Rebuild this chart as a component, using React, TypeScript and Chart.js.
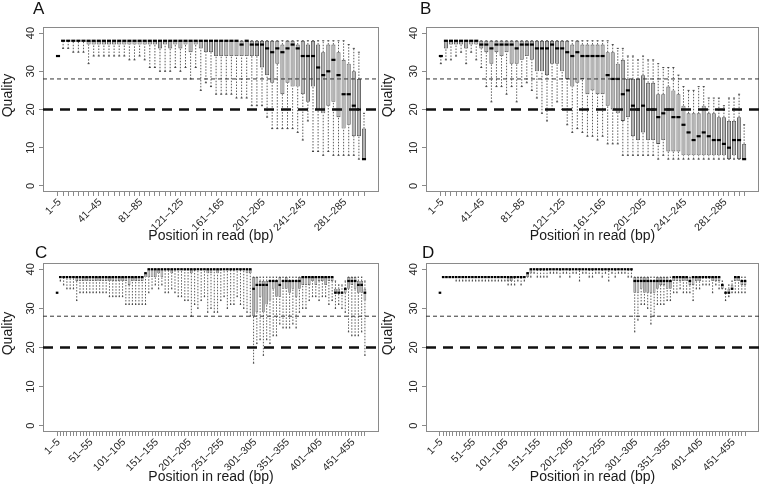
import React, { useEffect, useRef } from "react";
import { Chart, registerables } from "chart.js";
Chart.register(...registerables);

const FONT = "'Liberation Sans', Arial, Helvetica, sans-serif";

// x tick labels (shown every LABEL_STEP boxes)
const LABELS_AB = ["1–5", "41–45", "81–85", "121–125", "161–165", "201–205", "241–245", "281–285"];
const LABEL_STEP_AB = 8;
const LABELS_CD = ["1–5", "51–55", "101–105", "151–155", "201–205", "251–255", "301–305", "351–355", "401–405", "451–455"];
const LABEL_STEP_CD = 10;
const Y_TICKS = [0, 10, 20, 30, 40];
const THRESHOLD_THIN = 28;
const THRESHOLD_THICK = 20;
const X_TITLE = "Position in read (bp)";
const Y_TITLE = "Quality";

// ---------- Panel A (61 boxes) ----------
const A_LOW = [
  34, 36, 36, 35, 35, 35, 32, 34, 34, 34,
  34, 34, 34, 34, 33, 33, 34, 33, 31, 31,
  30, 30, 30, 31, 30, 31, 28, 31, 25, 27,
  26, 24, 24, 24, 24, 23, 23, 23, 21, 21,
  21, 18, 15, 15, 15, 15, 15, 14, 12, 17,
  9, 9, 8, 9, 8, 8, 8, 8, 8, 7,
  7];
const A_Q1 = [
  34, 38, 38, 38, 38, 38, 37, 37, 37, 37,
  37, 37, 37, 37, 37, 37, 37, 37, 37, 37,
  36, 37, 36, 37, 36, 37, 35, 37, 36, 35,
  35, 34, 34, 34, 34, 34, 34, 34, 34, 34,
  31, 29, 27, 32, 24, 27, 26, 26, 24, 22,
  26, 20, 19, 21, 22, 18, 15, 16, 13, 13,
  7];
const A_MED = [
  34, 38, 38, 38, 38, 38, 38, 38, 38, 38,
  38, 38, 38, 38, 38, 38, 38, 38, 38, 38,
  38, 38, 38, 38, 38, 38, 38, 38, 38, 38,
  38, 38, 38, 38, 38, 38, 37, 38, 37, 37,
  37, 36, 35, 36, 35, 36, 37, 36, 34, 34,
  34, 31, 29, 30, 33, 29, 24, 24, 21, 20,
  7];
const A_Q3 = [
  34, 38, 38, 38, 38, 38, 38, 38, 38, 38,
  38, 38, 38, 38, 38, 38, 38, 38, 38, 38,
  38, 38, 38, 38, 38, 38, 38, 38, 38, 38,
  38, 38, 38, 38, 38, 38, 38, 38, 38, 38,
  38, 38, 38, 38, 37, 38, 38, 37, 38, 37,
  38, 37, 35, 37, 37, 35, 33, 32, 30, 28,
  15];
const A_HIGH = [
  34, 38, 38, 38, 38, 38, 38, 38, 38, 38,
  38, 38, 38, 38, 38, 38, 38, 38, 38, 38,
  38, 38, 38, 38, 38, 38, 38, 38, 38, 38,
  38, 38, 38, 38, 38, 38, 38, 38, 38, 38,
  38, 38, 38, 38, 38, 38, 38, 38, 38, 38,
  38, 38, 38, 38, 38, 38, 38, 37, 36, 35,
  19];

// ---------- Panel B (61 boxes) ----------
const B_LOW = [
  32, 33, 33, 34, 35, 32, 35, 33, 31, 26,
  22, 26, 26, 24, 26, 22, 26, 27, 25, 23,
  19, 17, 20, 22, 20, 16, 14, 15, 14, 13,
  13, 12, 13, 11, 11, 11, 8, 8, 8, 8,
  8, 8, 8, 7, 8, 7, 7, 7, 7, 7,
  7, 7, 7, 7, 7, 7, 7, 7, 7, 7,
  7];
const B_Q1 = [
  34, 36, 37, 37, 37, 36, 37, 37, 36, 35,
  32, 35, 34, 35, 32, 32, 33, 34, 33, 30,
  30, 29, 32, 32, 30, 28, 26, 27, 28, 24,
  25, 24, 24, 21, 20, 19, 17, 18, 13, 12,
  14, 12, 12, 11, 12, 9, 9, 9, 8, 8,
  8, 8, 8, 8, 8, 8, 8, 7, 8, 7,
  7];
const B_MED = [
  34, 38, 38, 38, 38, 38, 38, 38, 37, 37,
  36, 37, 37, 37, 37, 36, 37, 37, 37, 36,
  36, 36, 37, 36, 36, 35, 34, 35, 34, 34,
  34, 34, 34, 29, 28, 28, 24, 25, 21, 20,
  21, 20, 20, 18, 19, 20, 18, 18, 16, 14,
  12, 13, 14, 13, 12, 12, 11, 10, 12, 12,
  7];
const B_Q3 = [
  34, 38, 38, 38, 38, 38, 38, 38, 38, 38,
  38, 38, 38, 38, 38, 38, 38, 38, 38, 38,
  38, 38, 38, 38, 38, 38, 37, 38, 37, 37,
  37, 37, 37, 35, 35, 32, 33, 28, 28, 28,
  29, 27, 27, 24, 24, 26, 25, 24, 21, 19,
  19, 19, 21, 19, 19, 18, 18, 17, 17, 18,
  11];
const B_HIGH = [
  34, 38, 38, 38, 38, 38, 38, 38, 38, 38,
  38, 38, 38, 38, 38, 38, 38, 38, 38, 38,
  38, 38, 38, 38, 38, 38, 38, 38, 38, 38,
  38, 38, 38, 38, 37, 36, 36, 34, 34, 33,
  34, 33, 33, 32, 31, 31, 31, 29, 26, 25,
  25, 26, 26, 23, 23, 23, 21, 23, 23, 24,
  16];

// ---------- Panel C (95 boxes) ----------
const C_LOW = [
  34, 37, 36, 35, 35, 35, 32, 34, 34, 34,
  34, 34, 34, 34, 34, 34, 33, 33, 33, 33,
  33, 31, 31, 31, 31, 31, 31, 31, 34, 35,
  36, 35, 36, 34, 34, 35, 34, 33, 33, 32,
  32, 28, 31, 30, 32, 33, 29, 30, 29, 29,
  32, 33, 30, 31, 31, 33, 31, 30, 29, 28,
  16, 21, 22, 18, 22, 21, 23, 23, 26, 25,
  25, 25, 26, 25, 29, 30, 30, 32, 33, 33,
  32, 33, 33, 31, 32, 30, 31, 30, 29, 24,
  23, 23, 23, 24, 18];
const C_Q1 = [
  34, 38, 38, 38, 38, 38, 37, 37, 37, 37,
  37, 37, 37, 37, 37, 37, 37, 37, 37, 37,
  37, 37, 36, 37, 37, 37, 37, 38, 38, 38,
  38, 39, 38, 40, 40, 39, 40, 40, 40, 40,
  40, 39, 40, 40, 40, 40, 39, 39, 40, 39,
  40, 40, 40, 40, 40, 40, 40, 40, 39, 39,
  28, 29, 33, 29, 31, 32, 35, 33, 33, 35,
  35, 34, 35, 33, 35, 36, 36, 36, 37, 36,
  37, 37, 36, 37, 37, 34, 34, 34, 34, 35,
  36, 35, 34, 34, 32];
const C_MED = [
  34, 38, 38, 38, 38, 38, 38, 38, 38, 38,
  38, 38, 38, 38, 38, 38, 38, 38, 38, 38,
  38, 38, 38, 38, 38, 38, 38, 39, 40, 40,
  40, 40, 40, 40, 40, 40, 40, 40, 40, 40,
  40, 40, 40, 40, 40, 40, 40, 40, 40, 40,
  40, 40, 40, 40, 40, 40, 40, 40, 40, 40,
  35, 36, 36, 36, 36, 37, 37, 37, 36, 37,
  37, 37, 37, 37, 37, 38, 38, 38, 38, 38,
  38, 38, 38, 38, 38, 34, 34, 34, 35, 37,
  37, 37, 36, 36, 34];
const C_Q3 = [
  34, 38, 38, 38, 38, 38, 38, 38, 38, 38,
  38, 38, 38, 38, 38, 38, 38, 38, 38, 38,
  38, 38, 38, 38, 38, 38, 38, 39, 40, 40,
  40, 40, 40, 40, 40, 40, 40, 40, 40, 40,
  40, 40, 40, 40, 40, 40, 40, 40, 40, 40,
  40, 40, 40, 40, 40, 40, 40, 40, 40, 40,
  38, 38, 37, 37, 37, 37, 37, 37, 38, 37,
  38, 37, 37, 37, 38, 38, 38, 38, 38, 38,
  38, 38, 38, 38, 38, 35, 35, 34, 35, 38,
  38, 38, 37, 37, 35];
const C_HIGH = [
  34, 38, 38, 38, 38, 38, 38, 38, 38, 38,
  38, 38, 38, 38, 38, 38, 38, 38, 38, 38,
  38, 38, 38, 38, 38, 38, 38, 39, 40, 40,
  40, 40, 40, 40, 40, 40, 40, 40, 40, 40,
  40, 40, 40, 40, 40, 40, 40, 40, 40, 40,
  40, 40, 40, 40, 40, 40, 40, 40, 40, 40,
  38, 38, 38, 38, 38, 38, 38, 38, 38, 38,
  38, 38, 38, 38, 38, 38, 38, 38, 38, 38,
  38, 38, 38, 38, 38, 37, 36, 36, 37, 38,
  38, 38, 38, 38, 37];

// ---------- Panel D (95 boxes) ----------
const D_LOW = [
  34, 38, 38, 38, 38, 37, 37, 37, 37, 37,
  37, 37, 37, 37, 37, 37, 37, 37, 37, 37,
  37, 36, 36, 36, 37, 36, 37, 38, 38, 39,
  38, 38, 38, 38, 39, 39, 39, 38, 39, 39,
  38, 39, 39, 37, 39, 39, 38, 38, 39, 39,
  38, 39, 37, 39, 38, 39, 39, 39, 38, 38,
  24, 27, 31, 31, 30, 26, 28, 31, 31, 31,
  32, 32, 34, 34, 35, 34, 34, 34, 32, 35,
  35, 36, 36, 36, 34, 36, 35, 35, 32, 33,
  34, 34, 34, 34, 34];
const D_Q1 = [
  34, 38, 38, 38, 38, 38, 38, 38, 38, 38,
  38, 38, 38, 38, 38, 38, 38, 38, 38, 38,
  38, 37, 37, 38, 38, 38, 38, 38, 39, 40,
  40, 40, 40, 40, 40, 40, 40, 40, 40, 40,
  40, 40, 40, 40, 40, 40, 40, 40, 40, 40,
  40, 40, 40, 40, 40, 40, 40, 40, 40, 40,
  34, 34, 35, 34, 34, 34, 34, 35, 36, 36,
  35, 35, 37, 37, 37, 37, 37, 36, 36, 37,
  37, 38, 38, 38, 37, 37, 37, 35, 34, 34,
  35, 37, 37, 36, 36];
const D_MED = [
  34, 38, 38, 38, 38, 38, 38, 38, 38, 38,
  38, 38, 38, 38, 38, 38, 38, 38, 38, 38,
  38, 38, 38, 38, 38, 38, 38, 39, 40, 40,
  40, 40, 40, 40, 40, 40, 40, 40, 40, 40,
  40, 40, 40, 40, 40, 40, 40, 40, 40, 40,
  40, 40, 40, 40, 40, 40, 40, 40, 40, 40,
  37, 37, 37, 37, 37, 37, 37, 37, 37, 37,
  37, 37, 38, 38, 38, 38, 38, 37, 38, 38,
  38, 38, 38, 38, 38, 38, 38, 36, 34, 34,
  35, 38, 38, 37, 37];
const D_Q3 = [
  34, 38, 38, 38, 38, 38, 38, 38, 38, 38,
  38, 38, 38, 38, 38, 38, 38, 38, 38, 38,
  38, 38, 38, 38, 38, 38, 38, 39, 40, 40,
  40, 40, 40, 40, 40, 40, 40, 40, 40, 40,
  40, 40, 40, 40, 40, 40, 40, 40, 40, 40,
  40, 40, 40, 40, 40, 40, 40, 40, 40, 40,
  38, 38, 38, 38, 38, 37, 37, 38, 38, 38,
  38, 37, 38, 38, 38, 38, 38, 38, 38, 38,
  38, 38, 38, 38, 38, 38, 38, 36, 34, 35,
  36, 38, 38, 37, 37];
const D_HIGH = [
  34, 38, 38, 38, 38, 38, 38, 38, 38, 38,
  38, 38, 38, 38, 38, 38, 38, 38, 38, 38,
  38, 38, 38, 38, 38, 38, 38, 39, 40, 40,
  40, 40, 40, 40, 40, 40, 40, 40, 40, 40,
  40, 40, 40, 40, 40, 40, 40, 40, 40, 40,
  40, 40, 40, 40, 40, 40, 40, 40, 40, 40,
  38, 38, 38, 38, 38, 38, 38, 38, 38, 38,
  38, 38, 38, 38, 38, 38, 38, 38, 38, 38,
  38, 38, 38, 38, 38, 38, 38, 37, 35, 36,
  37, 38, 38, 38, 38];

const W = 380;
const H = 245;

type Area = { left: number; top: number; right: number; bottom: number };
type PanelProps = {
  letter: string;
  low: number[];
  q1: number[];
  med: number[];
  q3: number[];
  high: number[];
  tickLabels: string[];
  labelStep: number;
  area: Area;
  letterX: number;
  letterY: number;
  titlePadBottom: number;
};

function BoxPanel(p: PanelProps) {
  const ref = useRef<HTMLCanvasElement | null>(null);
  useEffect(() => {
    if (!ref.current) return;
    const n = p.med.length;
    const xMin = -0.5 - 0.04 * n;
    const xMax = n - 0.5 + 0.04 * n;
    const idx = p.med.map((_, i) => i);

    const boxes = idx.map((i) => ({ x: i, y: [p.q1[i], p.q3[i]] }));
    const whiskers: any[] = [];
    idx.forEach((i) => {
      if (p.high[i] > p.q3[i]) whiskers.push({ x: i, y: p.q3[i] }, { x: i, y: p.high[i] }, { x: i, y: null });
      if (p.low[i] < p.q1[i]) whiskers.push({ x: i, y: p.low[i] }, { x: i, y: p.q1[i] }, { x: i, y: null });
    });
    const staples: any[] = [];
    idx.forEach((i) => {
      staples.push({ x: i, y: p.low[i] }, { x: i, y: p.high[i] });
    });
    const medians = idx.map((i) => ({ x: i, y: p.med[i] }));

    const halfPx = (units: number) => (ctx: any) => {
      const s = ctx.chart.scales.x;
      if (!s) return 1;
      return Math.abs(s.getPixelForValue(units) - s.getPixelForValue(0));
    };

    const framePlugin = {
      id: "frame",
      beforeDatasetsDraw(chart: any) {
        const { ctx, chartArea: a } = chart;
        ctx.save();
        ctx.strokeStyle = "#8a8a8a";
        ctx.lineWidth = 1;
        ctx.strokeRect(Math.round(a.left) + 0.5, Math.round(a.top) + 0.5, Math.round(a.right - a.left) - 1, Math.round(a.bottom - a.top) - 1);
        ctx.restore();
      },
      afterDraw(chart: any) {
        const { ctx, chartArea: a } = chart;
        const xs = chart.scales.x;
        ctx.save();
        // panel letter
        ctx.fillStyle = "#111";
        ctx.font = `17px ${FONT}`;
        ctx.textBaseline = "alphabetic";
        ctx.textAlign = "left";
        ctx.fillText(p.letter, p.letterX, p.letterY);
        // rotated x tick labels (R style: right end at the tick, 45 degrees)
        ctx.fillStyle = "#262626";
        ctx.font = `10.5px ${FONT}`;
        ctx.textAlign = "right";
        ctx.textBaseline = "middle";
        p.tickLabels.forEach((lab, k) => {
          const x = xs.getPixelForValue(k * p.labelStep);
          ctx.save();
          ctx.translate(x + 1.5, a.bottom + 8.5);
          ctx.rotate(-Math.PI / 4);
          ctx.fillText(lab, 0, 0);
          ctx.restore();
        });
        // y axis title
        ctx.fillStyle = "#1a1a1a";
        ctx.font = `14px ${FONT}`;
        ctx.textAlign = "center";
        ctx.textBaseline = "middle";
        ctx.save();
        ctx.translate(8.5, (a.top + a.bottom) / 2 - 14);
        ctx.rotate(-Math.PI / 2);
        ctx.fillText(Y_TITLE, 0, 0);
        ctx.restore();
        ctx.restore();
      },
    };

    const chart = new Chart(ref.current, {
      type: "bar",
      data: {
        datasets: [
          {
            type: "line",
            data: whiskers,
            borderColor: "#4a4a4a",
            borderWidth: 0.9,
            borderDash: [1.5, 1.5],
            pointRadius: 0,
            spanGaps: false,
            tension: 0,
            order: 5,
          } as any,
          {
            type: "bar",
            data: boxes,
            backgroundColor: "#b4b4b4",
            borderColor: "#4d4d4d",
            borderWidth: n > 70 ? 0.7 : 0.9,
            borderSkipped: false,
            barPercentage: 0.8,
            categoryPercentage: 1,
            grouped: false,
            order: 4,
          } as any,
          {
            type: "scatter",
            data: staples,
            pointStyle: "line",
            pointRadius: halfPx(0.2),
            pointBorderColor: "#333",
            pointBorderWidth: 0.9,
            pointBackgroundColor: "#333",
            order: 3,
          } as any,
          {
            type: "scatter",
            data: medians,
            pointStyle: "line",
            pointRadius: halfPx(0.4),
            pointBorderColor: "#000",
            pointBorderWidth: 2.2,
            pointBackgroundColor: "#000",
            order: 2,
          } as any,
          {
            type: "line",
            data: [{ x: xMin, y: THRESHOLD_THIN }, { x: xMax, y: THRESHOLD_THIN }],
            borderColor: "#333",
            borderWidth: 1,
            borderDash: [4, 3],
            pointRadius: 0,
            order: 1,
          } as any,
          {
            type: "line",
            data: [{ x: xMin, y: THRESHOLD_THICK }, { x: xMax, y: THRESHOLD_THICK }],
            borderColor: "#111",
            borderWidth: 2.6,
            borderDash: [10, 7],
            pointRadius: 0,
            order: 1,
          } as any,
        ],
      },
      options: {
        responsive: false,
        animation: false,
        events: [],
        layout: { padding: { left: 0, top: p.area.top, right: W - p.area.right, bottom: 0 } },
        plugins: { legend: { display: false }, tooltip: { enabled: false }, title: { display: false } },
        scales: {
          x: {
            type: "linear",
            min: xMin,
            max: xMax,
            offset: false,
            afterBuildTicks: (s: any) => {
              s.ticks = idx.map((v) => ({ value: v }));
            },
            afterFit: (s: any) => {
              s.height = H - p.area.bottom;
            },
            ticks: { display: false, autoSkip: false },
            grid: { display: true, drawOnChartArea: false, drawTicks: true, tickLength: 4, color: "#8a8a8a", offset: false },
            border: { display: false },
            title: {
              display: true,
              text: X_TITLE,
              color: "#1a1a1a",
              font: { family: FONT, size: 14 },
              padding: { top: 0, bottom: p.titlePadBottom },
            },
          },
          y: {
            type: "linear",
            min: -1.6,
            max: 41.6,
            afterBuildTicks: (s: any) => {
              s.ticks = Y_TICKS.map((v) => ({ value: v }));
            },
            afterFit: (s: any) => {
              s.width = p.area.left;
            },
            ticks: {
              minRotation: 90,
              maxRotation: 90,
              crossAlign: "center",
              padding: 2,
              color: "#262626",
              font: { family: FONT, size: 11 },
            },
            grid: { display: true, drawOnChartArea: false, drawTicks: true, tickLength: 4, color: "#8a8a8a" },
            border: { display: false },
            title: { display: false },
          },
        },
      } as any,
      plugins: [framePlugin],
    });
    return () => chart.destroy();
  }, []);
  return <canvas ref={ref} width={W} height={H} style={{ display: "block", width: W, height: H }} />;
}

export default function App() {
  return (
    <div style={{ position: "absolute", left: 0, top: 0, width: 760, height: 490, background: "#fff" }}>
      <div style={{ position: "absolute", left: 0, top: 0 }}>
        <BoxPanel letter="A" low={A_LOW} q1={A_Q1} med={A_MED} q3={A_Q3} high={A_HIGH}
          tickLabels={LABELS_AB} labelStep={LABEL_STEP_AB}
          area={{ left: 43, top: 27, right: 379, bottom: 192 }} letterX={33} letterY={14} titlePadBottom={0} />
      </div>
      <div style={{ position: "absolute", left: 380, top: 0 }}>
        <BoxPanel letter="B" low={B_LOW} q1={B_Q1} med={B_MED} q3={B_Q3} high={B_HIGH}
          tickLabels={LABELS_AB} labelStep={LABEL_STEP_AB}
          area={{ left: 46, top: 27, right: 379, bottom: 192 }} letterX={40} letterY={14} titlePadBottom={0} />
      </div>
      <div style={{ position: "absolute", left: 0, top: 245 }}>
        <BoxPanel letter="C" low={C_LOW} q1={C_Q1} med={C_MED} q3={C_Q3} high={C_HIGH}
          tickLabels={LABELS_CD} labelStep={LABEL_STEP_CD}
          area={{ left: 43, top: 18, right: 379, bottom: 187 }} letterX={35} letterY={13} titlePadBottom={4} />
      </div>
      <div style={{ position: "absolute", left: 380, top: 245 }}>
        <BoxPanel letter="D" low={D_LOW} q1={D_Q1} med={D_MED} q3={D_Q3} high={D_HIGH}
          tickLabels={LABELS_CD} labelStep={LABEL_STEP_CD}
          area={{ left: 46, top: 18, right: 379, bottom: 187 }} letterX={42} letterY={13} titlePadBottom={4} />
      </div>
    </div>
  );
}
